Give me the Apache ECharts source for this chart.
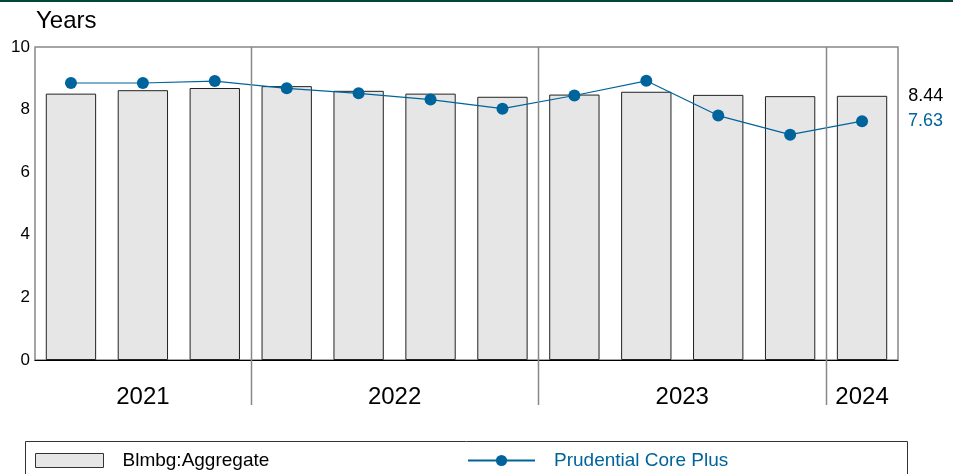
<!DOCTYPE html>
<html><head><meta charset="utf-8">
<script src="https://cdn.jsdelivr.net/npm/echarts@6/dist/echarts.min.js"></script>
<style>html,body{margin:0;padding:0;background:#fff}#c{width:953px;height:474px}</style>
</head><body><div id="c"></div>
<script>
const categories = ['2021 Q2','2021 Q3','2021 Q4','2022 Q1','2022 Q2','2022 Q3','2022 Q4','2023 Q1','2023 Q2','2023 Q3','2023 Q4','2024 Q1'];
const aggregate = [8.51, 8.62, 8.69, 8.75, 8.60, 8.51, 8.41, 8.48, 8.57, 8.47, 8.43, 8.44];
const prudential = [8.85, 8.85, 8.91, 8.68, 8.52, 8.32, 8.03, 8.45, 8.92, 7.81, 7.20, 7.63];
const yTicks = [0, 2, 4, 6, 8, 10];

const FONT = '"Liberation Sans", Arial, sans-serif';
const BLUE = '#00649c';
const last = categories.length - 1;

const chart = echarts.init(document.getElementById('c'), null, {renderer: 'canvas'});

const option = {
  animation: false,
  textStyle: {fontFamily: FONT},
  title: {text: 'Years', left: 36, top: 9, padding: 0,
    textStyle: {fontSize: 24, fontWeight: 'normal', color: '#000', fontFamily: FONT}},
  grid: {left: 35, right: 55, top: 47, bottom: 114, show: true, borderColor: '#888', borderWidth: 1.5},
  xAxis: {type: 'category', data: categories, boundaryGap: true,
    axisLine: {lineStyle: {color: '#000', width: 1.2}},
    axisTick: {show: false}, axisLabel: {show: false}, splitLine: {show: false}},
  yAxis: {type: 'value', min: yTicks[0], max: yTicks[yTicks.length - 1], interval: 2,
    axisLine: {show: false}, axisTick: {show: false}, splitLine: {show: false},
    axisLabel: {fontSize: 17, color: '#000', margin: 5, fontFamily: FONT}},
  legend: [
    {data: ['Blmbg:Aggregate'], left: 35, top: 451, padding: 0, itemWidth: 68, itemHeight: 14,
      icon: 'rect', selectedMode: false,
      itemStyle: {borderWidth: 1, borderColor: '#333'},
      textStyle: {fontSize: 19, color: '#000', fontFamily: FONT, padding: [0, 0, 0, 14]}},
    {data: ['Prudential Core Plus'], left: 467, top: 451, padding: 0, itemWidth: 67, itemHeight: 14,
      selectedMode: false,
      textStyle: {fontSize: 19, color: BLUE, fontFamily: FONT, padding: [0, 0, 0, 14]}}
  ],
  series: [
    {name: 'Blmbg:Aggregate', type: 'bar', barWidth: '70%',
      itemStyle: {color: '#e6e6e6', borderColor: '#222', borderWidth: 1},
      data: aggregate.map((v, i) => i === last ? {value: v, label: {show: true,
        position: ['100%', 0], offset: [21, 0], align: 'left', verticalAlign: 'middle',
        fontSize: 18, color: '#000', fontFamily: FONT, formatter: p => p.value.toFixed(2)}} : v)},
    {name: 'Prudential Core Plus', type: 'line', symbol: 'circle', symbolSize: 12,
      itemStyle: {color: BLUE}, lineStyle: {color: BLUE, width: 1.2},
      data: prudential.map((v, i) => i === last ? {value: v, label: {show: true,
        position: 'right', distance: 40, fontSize: 18, color: BLUE, fontFamily: FONT,
        formatter: p => p.value.toFixed(2)}} : v)}
  ]
};
chart.setOption(option);

// year groups, separators and year labels placed through the axis scales
const groups = [];
categories.forEach((c, i) => {
  const y = c.slice(0, 4);
  if (!groups.length || groups[groups.length - 1].year !== y) groups.push({year: y, first: i, last: i});
  else groups[groups.length - 1].last = i;
});
const px = i => chart.convertToPixel({xAxisIndex: 0}, categories[i]);
const yTop = chart.convertToPixel({yAxisIndex: 0}, yTicks[yTicks.length - 1]);
const yBot = chart.convertToPixel({yAxisIndex: 0}, yTicks[0]);
const gfx = [
  {type: 'rect', shape: {x: 0, y: 0, width: 953, height: 2}, style: {fill: '#00463a'}, z: 100},
  {type: 'rect', shape: {x: 25.5, y: 441.5, width: 882, height: 60}, style: {fill: 'none', stroke: '#333', lineWidth: 1}, z: 1}
];
groups.forEach((g, k) => {
  const cx = (px(g.first) + px(g.last)) / 2;
  gfx.push({type: 'text', z: 100, style: {text: g.year, x: cx, y: yBot + 37, font: '24px ' + FONT,
    fill: '#000', align: 'center', verticalAlign: 'middle'}});
  if (k < groups.length - 1) {
    const bx = Math.round((px(g.last) + px(groups[k + 1].first)) / 2) + 0.5;
    gfx.push({type: 'line', z: 100, shape: {x1: bx, y1: yTop, x2: bx, y2: yBot + 45},
      style: {stroke: '#888', lineWidth: 1.5}});
  }
});
chart.setOption({graphic: gfx});
</script></body></html>
